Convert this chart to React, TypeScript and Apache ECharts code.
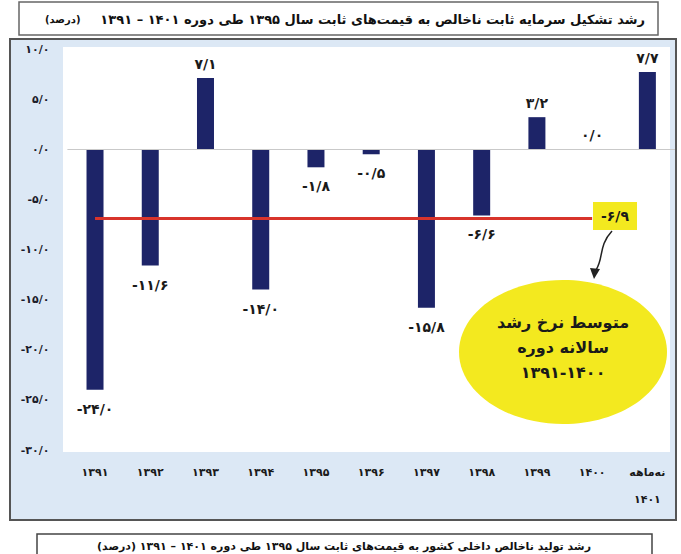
import React, { useEffect, useRef } from 'react';
import * as echarts from 'echarts';

const categories = ['۱۳۹۱', '۱۳۹۲', '۱۳۹۳', '۱۳۹۴', '۱۳۹۵', '۱۳۹۶', '۱۳۹۷', '۱۳۹۸', '۱۳۹۹', '۱۴۰۰', 'نه‌ماهه\n۱۴۰۱'];
const growth = [-24.0, -11.6, 7.1, -14.0, -1.8, -0.5, -15.8, -6.6, 3.2, 0.0, 7.7];
const barLabels = ['-۲۴/۰', '-۱۱/۶', '۷/۱', '-۱۴/۰', '-۱/۸', '-۰/۵', '-۱۵/۸', '-۶/۶', '۳/۲', '۰/۰', '۷/۷'];
const averageRate = -6.9;
const averageLabel = '-۶/۹';
const averageFromIndex = 0;
const averageToIndex = 9;
const yTicks = [10, 5, 0, -5, -10, -15, -20, -25, -30];
const yTickLabels = ['۱۰/۰', '۵/۰', '۰/۰', '-۵/۰', '-۱۰/۰', '-۱۵/۰', '-۲۰/۰', '-۲۵/۰', '-۳۰/۰'];
const titleText = '\u200Fرشد تشکیل سرمایه ثابت ناخالص به قیمت‌های ثابت سال ۱۳۹۵ طی دوره ۱۴۰۱ – ۱۳۹۱\u200F';
const titleUnit = '\u200F(درصد)\u200F';
const nextTitleText = '\u200Fرشد تولید ناخالص داخلی کشور به قیمت‌های ثابت سال ۱۳۹۵ طی دوره ۱۴۰۱ – ۱۳۹۱ (درصد)\u200F';
const ellipseText = 'متوسط نرخ رشد\nسالانه دوره\n۱۳۹۱-۱۴۰۰';

const FONT = '"DejaVu Sans", sans-serif';

export default function App() {
  const ref = useRef<HTMLDivElement>(null);
  useEffect(() => {
    if (!ref.current) return;
    const chart = echarts.init(ref.current, undefined, { renderer: 'svg' });
    const option: any = {
      animation: false,
      grid: { left: 67.4, right: 6, top: 49, bottom: 104, containLabel: false },
      xAxis: {
        type: 'category',
        data: categories,
        axisLine: { show: false, onZero: false },
        axisTick: { show: false },
        splitLine: { show: false },
        axisLabel: {
          interval: 0,
          margin: 9,
          lineHeight: 27,
          fontSize: 11,
          fontWeight: 'bold',
          fontFamily: FONT,
          color: '#1a1a1a',
        },
      },
      yAxis: {
        type: 'value',
        min: -30,
        max: 10,
        interval: 5,
        axisLine: { show: false },
        axisTick: { show: false },
        splitLine: { show: false },
        axisLabel: {
          margin: 18,
          fontSize: 11,
          fontWeight: 'bold',
          fontFamily: FONT,
          color: '#1a1a2a',
          formatter: (v: number) => {
            const i = yTicks.indexOf(v);
            return i >= 0 ? yTickLabels[i] : '';
          },
        },
      },
      series: [
        {
          type: 'bar',
          barWidth: 17,
          itemStyle: { color: '#1d2468' },
          data: growth.map((v) => ({
            value: v,
            label: { position: v >= 0 ? 'top' : 'bottom', distance: v >= 0 ? 7 : 12 },
          })),
          label: {
            show: true,
            fontSize: 14,
            fontWeight: 'bold',
            fontFamily: FONT,
            color: '#1a1a1a',
            formatter: (p: any) => barLabels[p.dataIndex],
          },
          markLine: {
            silent: true,
            symbol: ['none', 'none'],
            label: { show: false },
            lineStyle: { type: 'solid' },
            data: [
              { yAxis: 0, lineStyle: { color: '#c9c9c9', width: 1, type: 'solid' } },
              [
                { coord: [averageFromIndex, averageRate], lineStyle: { color: '#d8342b', width: 3, type: 'solid' } },
                { coord: [averageToIndex, averageRate] },
              ],
            ],
          },
        },
      ],
      graphic: [
        {
          type: 'rect',
          z: -100,
          shape: { x: 10, y: 39, width: 666, height: 481 },
          style: { fill: '#dce8f5', stroke: '#555', lineWidth: 2 },
        },
        {
          type: 'rect',
          z: -90,
          shape: { x: 63, y: 47, width: 607, height: 405 },
          style: { fill: '#ffffff' },
        },
        {
          type: 'rect',
          shape: { x: 19, y: 2, width: 639, height: 33 },
          style: { fill: '#ffffff', stroke: '#666', lineWidth: 1.5 },
        },
        {
          type: 'text',
          x: 645,
          y: 19,
          style: {
            text: titleText,
            fill: '#111',
            font: 'bold 13px ' + FONT,
            textAlign: 'right',
            textVerticalAlign: 'middle',
          },
        },
        {
          type: 'text',
          x: 45,
          y: 19,
          style: {
            text: titleUnit,
            fill: '#111',
            font: 'bold 10px ' + FONT,
            textAlign: 'left',
            textVerticalAlign: 'middle',
          },
        },
        {
          type: 'rect',
          shape: { x: 37, y: 534, width: 615, height: 40 },
          style: { fill: '#ffffff', stroke: '#444', lineWidth: 1.5 },
        },
        {
          type: 'text',
          x: 344,
          y: 546,
          style: {
            text: nextTitleText,
            fill: '#111',
            font: 'bold 11px ' + FONT,
            textAlign: 'center',
            textVerticalAlign: 'middle',
          },
        },
        {
          type: 'rect',
          shape: { x: 593, y: 202, width: 44, height: 28 },
          style: { fill: '#f3e91f' },
        },
        {
          type: 'text',
          x: 615,
          y: 216,
          style: {
            text: averageLabel,
            fill: '#1a1a1a',
            font: 'bold 14px ' + FONT,
            textAlign: 'center',
            textVerticalAlign: 'middle',
          },
        },
        {
          type: 'bezierCurve',
          shape: { x1: 612, y1: 231, cpx1: 598, cpy1: 246, cpx2: 604, cpy2: 258, x2: 596, y2: 270 },
          style: { stroke: '#222', lineWidth: 1.5, fill: 'none' },
        },
        {
          type: 'polygon',
          shape: { points: [[590, 268], [600, 269], [594, 279]] },
          style: { fill: '#222' },
        },
        {
          type: 'ellipse',
          shape: { cx: 563, cy: 352, rx: 104, ry: 72 },
          style: { fill: '#f3e91f' },
        },
        {
          type: 'text',
          x: 563,
          y: 347,
          style: {
            text: ellipseText,
            fill: '#1a1a1a',
            font: 'bold 16px ' + FONT,
            lineHeight: 25,
            textAlign: 'center',
            textVerticalAlign: 'middle',
          },
        },
      ],
    };
    chart.setOption(option);
    return () => chart.dispose();
  }, []);
  return (
    <div
      ref={ref}
      style={{ position: 'fixed', left: 0, top: 0, width: 681, height: 554, background: '#ffffff' }}
    />
  );
}
